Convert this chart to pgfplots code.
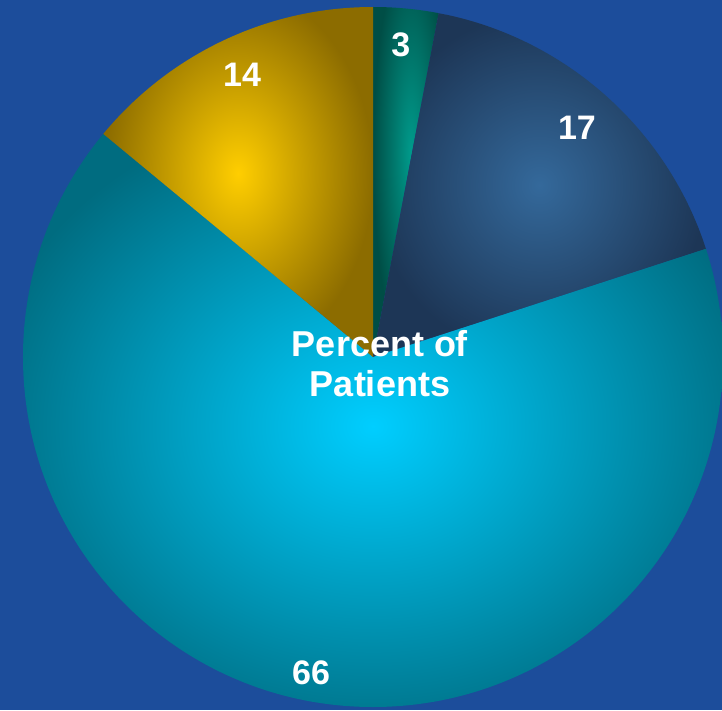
\documentclass[border=0pt]{standalone}
\usepackage{pgfplots}
\pgfplotsset{compat=1.18}
\usepgfplotslibrary{polar}
\usepackage{fontspec}
\setmainfont{Liberation Sans}

\definecolor{bg}{RGB}{28,77,155}
\definecolor{tealIn}{RGB}{0,155,140}
\definecolor{tealOut}{RGB}{0,78,70}
\definecolor{navyIn}{RGB}{52,105,155}
\definecolor{navyOut}{RGB}{29,54,86}
\definecolor{cyanIn}{RGB}{0,206,255}
\definecolor{cyanOut}{RGB}{0,108,128}
\definecolor{goldIn}{RGB}{255,206,0}
\definecolor{goldOut}{RGB}{140,108,0}

% percent of patients, clockwise from 12 o'clock: 3, 17, 66, 14
% slice angles (deg): 90 -> 79.2 -> 18 -> -219.6 -> -270
\begin{document}
\begin{tikzpicture}
\useasboundingbox (0pt,0pt) rectangle (722pt,710pt);
\clip (0pt,0pt) rectangle (722pt,710pt);
\fill[bg] (0pt,0pt) rectangle (722pt,710pt);
\begin{polaraxis}[at={(373pt,353pt)}, anchor=center,
  scale only axis, width=700pt, height=700pt,
  hide axis, xmin=0, xmax=360, ymin=0, ymax=1, clip=true]
% 3
\addplot[draw=none, inner color=tealIn, outer color=tealOut]
  coordinates {(0,0) (90,1.16) (79.2,1.16)};
% 17
\addplot[draw=none, inner color=navyIn, outer color=navyOut]
  coordinates {(0,0) (79.2,1) (48.6,1.16) (18,1)};
% 66
\addplot[draw=none, inner color=cyanIn, outer color=cyanOut]
  coordinates {(0,0) (18,1.16) (-12,1.16) (-42,1.16) (-72,1.16) (-102,1.16)
               (-132,1.16) (-162,1.16) (-192,1.16) (-219.6,1.16)};
% 14
\addplot[draw=none, inner color=goldIn, outer color=goldOut]
  coordinates {(0,0) (140.4,1) (115.2,1.16) (90,1)};

\begin{scope}[every node/.style={white, font=\fontsize{34}{37}\selectfont\bfseries}]
\node at (axis cs:84.9,0.895) {3};
\node at (axis cs:48.3,0.876) {17};
\node at (axis cs:-101.1,0.92) {66};
\node at (axis cs:114.9,0.888) {14};
\end{scope}
\end{polaraxis}
\node[white, align=center, font=\fontsize{36}{40}\selectfont\bfseries]
  at (380pt,346pt) {Percent of\\Patients};
\end{tikzpicture}
\end{document}
